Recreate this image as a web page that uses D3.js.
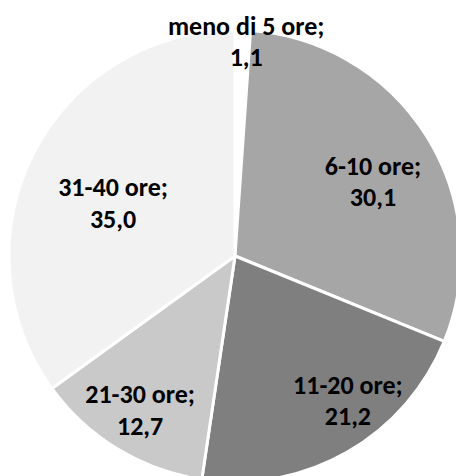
<!DOCTYPE html>
<html lang="it">
<head>
<meta charset="UTF-8">
<script src="https://cdn.jsdelivr.net/npm/d3@7"></script>
<style>
    body { margin: 0; background: #ffffff; }
    svg { display: block; }
    .lbl { font-family: Carlito, 'Open Sans', sans-serif; font-weight: bold; font-size: 26px; fill: #000; }
</style>
</head>
<body>
<svg id="viz" width="456" height="476"></svg>
<script>
    // data
    var categories = ["meno di 5 ore", "6-10 ore", "11-20 ore", "21-30 ore", "31-40 ore"];
    var values = [1.1, 30.1, 21.2, 12.7, 35.0];
    var colors = ["#ffffff", "#a6a6a6", "#7f7f7f", "#c9c9c9", "#f2f2f2"];

    // where each label sits: angle (deg, clockwise from top) and share of radius
    var labelAngle = [3.1, 64.4, 143.5, 210.3, 290.2];
    var labelRad = [0.913, 0.677, 0.84, 0.832, 0.575];

    var svg = d3.select("#viz"),
        cx = 235, cy = 256, radius = 226;

    var g = svg.append("g").attr("transform", "translate(" + cx + "," + cy + ")");

    var data = categories.map(function(c, i) { return {name: c, value: values[i], i: i}; });

    var pie = d3.pie().sort(null).value(function(d) { return d.value; });
    var arc = d3.arc().innerRadius(0).outerRadius(radius);

    g.selectAll("path")
        .data(pie(data))
        .enter().append("path")
        .attr("d", arc)
        .attr("fill", function(d) { return colors[d.data.i]; })
        .attr("stroke", "#ffffff")
        .attr("stroke-width", 3)
        .attr("stroke-linejoin", "round");

    var fmt = function(v) { return v.toFixed(1).replace(".", ","); };

    var lbl = g.selectAll("text")
        .data(data)
        .enter().append("text")
        .attr("class", "lbl")
        .attr("text-anchor", "middle")
        .attr("transform", function(d) {
            var a = labelAngle[d.i] * Math.PI / 180, r = labelRad[d.i] * radius;
            return "translate(" + (Math.sin(a) * r) + "," + (-Math.cos(a) * r) + ")";
        });

    lbl.append("tspan").attr("x", 0).attr("y", -15).text(function(d) { return d.name + ";"; });
    lbl.append("tspan").attr("x", 0).attr("y", 16.5).text(function(d) { return fmt(d.value); });
</script>
</body>
</html>
